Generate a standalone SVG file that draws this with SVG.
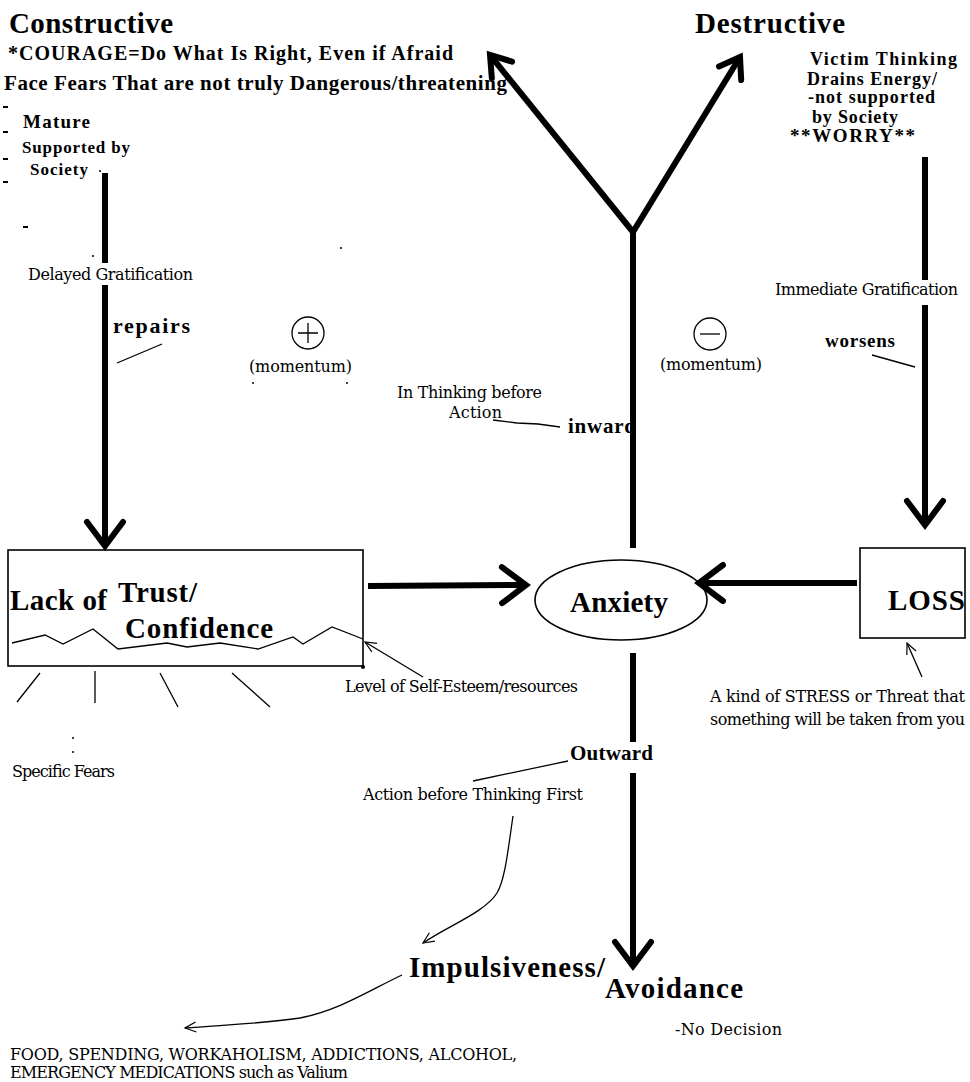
<svg xmlns="http://www.w3.org/2000/svg" width="970" height="1082" viewBox="0 0 970 1082">
<style>
.b{font-family:"Liberation Serif","Times New Roman",serif;font-weight:bold;fill:#000}
.n{font-family:"Liberation Serif","Times New Roman",serif;fill:#000}
.r{font-family:"DejaVu Serif",serif;font-size:16px;fill:#000}
.thick{fill:none;stroke:#000;stroke-width:6;stroke-linecap:butt}
.thin{fill:none;stroke:#000;stroke-width:1.3}
.box{fill:#fff;stroke:#000;stroke-width:1.6}
</style>
<defs>
<marker id="chev" markerUnits="userSpaceOnUse" viewBox="-30 -24 36 48" markerWidth="36" markerHeight="48" refX="0" refY="0" orient="auto" overflow="visible">
<path d="M-24,-18 L0,0 L-24,18" fill="none" stroke="#000" stroke-width="6" stroke-linecap="round"/>
</marker>
<marker id="chevS" markerUnits="userSpaceOnUse" viewBox="-26 -20 30 40" markerWidth="30" markerHeight="40" refX="0" refY="0" orient="auto" overflow="visible">
<path d="M-19,-13 L0,0 L-19,13" fill="none" stroke="#000" stroke-width="6" stroke-linecap="round"/>
</marker>
<marker id="tip" markerUnits="userSpaceOnUse" viewBox="-12 -7 14 14" markerWidth="14" markerHeight="14" refX="0" refY="0" orient="auto" overflow="visible">
<path d="M-11,-5 L0,0 L-11,5" fill="none" stroke="#000" stroke-width="1.2"/>
</marker>
</defs>
<rect width="970" height="1082" fill="#fff"/>

<g id="constructive">
<text class="b" x="9" y="33" font-size="29" textLength="164">Constructive</text>
<text class="b" x="8" y="60" font-size="20" textLength="445">*COURAGE=Do What Is Right, Even if Afraid</text>
<text class="b" x="4" y="90" font-size="21" textLength="503">Face Fears That are not truly Dangerous/threatening</text>
<text class="b" x="23" y="128" font-size="19" textLength="67">Mature</text>
<text class="b" x="22" y="153" font-size="17" textLength="108">Supported by</text>
<text class="b" x="30" y="175" font-size="17" textLength="58">Society</text>
</g>

<g id="destructive">
<text class="b" x="695" y="33" font-size="29" textLength="150">Destructive</text>
<text class="b" x="810" y="65" font-size="18" textLength="147">Victim Thinking</text>
<text class="b" x="807" y="85" font-size="18" textLength="130">Drains Energy/</text>
<text class="b" x="808" y="103" font-size="18" textLength="127">-not supported</text>
<text class="b" x="812" y="123" font-size="18" textLength="86">by Society</text>
<text class="n" x="790" y="142" font-size="19" font-weight="600" textLength="125">**WORRY**</text>
</g>

<g id="labels">
<text class="r" x="28" y="280" textLength="165">Delayed Gratification</text>
<text class="b" x="113" y="333" font-size="22" textLength="77">repairs</text>
<circle cx="308" cy="333" r="16" class="thin"/>
<path d="M298,333 H318 M308,323 V343" class="thin"/>
<text class="r" x="249" y="372" textLength="103">(momentum)</text>
<text class="r" x="775" y="295" textLength="183">Immediate Gratification</text>
<circle cx="710" cy="334" r="16" class="thin"/>
<path d="M700,334 H720" class="thin" stroke-width="2"/>
<text class="r" x="660" y="370" textLength="102">(momentum)</text>
<text class="b" x="825" y="347" font-size="19" textLength="70">worsens</text>
<text class="r" x="397" y="398" textLength="145">In Thinking before</text>
<text class="r" x="449" y="418" textLength="53">Action</text>
<text class="b" x="568" y="433" font-size="21" textLength="68">inward</text>
<text class="r" x="345" y="692" textLength="233">Level of Self-Esteem/resources</text>
<text class="r" x="12" y="777" textLength="103">Specific Fears</text>
<text class="r" x="710" y="702" textLength="255">A kind of STRESS or Threat that</text>
<text class="r" x="710" y="725" textLength="255">something will be taken from you</text>
<text class="b" x="570" y="760" font-size="21" textLength="83">Outward</text>
<text class="r" x="363" y="800" textLength="220">Action before Thinking First</text>
<text class="r" x="675" y="1035" textLength="107">-No Decision</text>
<text class="r" x="10" y="1060" textLength="507">FOOD, SPENDING, WORKAHOLISM, ADDICTIONS, ALCOHOL,</text>
<text class="r" x="10" y="1078" textLength="338">EMERGENCY MEDICATIONS such as Valium</text>
</g>

<g id="lack-of-trust">
<rect x="8" y="550" width="355" height="116" class="box"/>
<text class="b" x="10" y="610" font-size="29" textLength="97">Lack of</text>
<text class="b" x="118" y="602" font-size="29" textLength="79">Trust/</text>
<text class="b" x="125" y="638" font-size="29" textLength="148">Confidence</text>
<polyline class="thin" points="12,643 45,635 63,644 93,629 118,649 167,643 187,647 220,643 258,649 293,637 303,644 332,627 363,639"/>
<path class="thin" d="M40,673 L17,702 M95,671 V703 M160,673 L178,707 M232,673 L270,707"/>
</g>

<g id="anxiety">
<ellipse cx="621" cy="600" rx="86" ry="40" class="box"/>
<text class="b" x="570" y="612" font-size="29" textLength="98">Anxiety</text>
</g>

<g id="loss">
<rect x="860" y="548" width="105" height="90" class="box"/>
<text class="b" x="888" y="610" font-size="29" textLength="77">LOSS</text>
</g>

<g id="impulsiveness">
<text class="b" x="409" y="977" font-size="29" textLength="196">Impulsiveness/</text>
</g>
<g id="avoidance">
<text class="b" x="605" y="998" font-size="29" textLength="138">Avoidance</text>
</g>

<g id="connectors">
<path class="thick" d="M105,173 V263"/>
<path class="thick" d="M105,285 V546" marker-end="url(#chev)"/>
<path class="thick" d="M925,157 V280"/>
<path class="thick" d="M925,305 V525" marker-end="url(#chev)"/>
<path class="thick" d="M633,548 V232"/>
<path class="thick" d="M633,232 L490,55" marker-end="url(#chevS)"/>
<path class="thick" d="M633,232 L740,57" marker-end="url(#chevS)"/>
<path class="thick" d="M368,586 L526,585" marker-end="url(#chev)"/>
<path class="thick" d="M857,583 L699,583" marker-end="url(#chev)"/>
<path class="thick" d="M633,653 V742"/>
<path class="thick" d="M633,773 V966" marker-end="url(#chev)"/>
<path class="thin" d="M117,363 L162,344"/>
<path class="thin" d="M872,355 L915,367"/>
<path class="thin" d="M493,420 L517,423 L538,424 L560,427"/>
<path class="thin" d="M473,781 L568,761" stroke-width="1.6"/>
<path class="thin" d="M423,677 L365,642" marker-end="url(#tip)"/>
<path class="thin" d="M922,677 L907,643" stroke-width="2" marker-end="url(#tip)"/>
<path class="thin" d="M513,816 C508,850 505,880 497,893 C485,912 450,925 423,943" marker-end="url(#tip)"/>
<path class="thin" d="M402,975 C370,990 340,1010 300,1018 C260,1024 220,1025 185,1028" marker-end="url(#tip)"/>
</g>

<g id="specks" fill="#000">
<rect x="3" y="106" width="5" height="2"/>
<rect x="3" y="131" width="5" height="2"/>
<rect x="3" y="158" width="5" height="2"/>
<rect x="3" y="181" width="5" height="2"/>
<rect x="23" y="226" width="5" height="2"/>
<circle cx="93" cy="256" r="1"/>
<circle cx="341" cy="248" r="1"/>
<circle cx="253" cy="383" r="1"/>
<circle cx="347" cy="383" r="1"/>
<circle cx="73" cy="738" r="1"/>
<circle cx="73" cy="752" r="1"/>
<circle cx="363" cy="667" r="2"/>
<circle cx="100" cy="171" r="1"/>
</g>
</svg>
